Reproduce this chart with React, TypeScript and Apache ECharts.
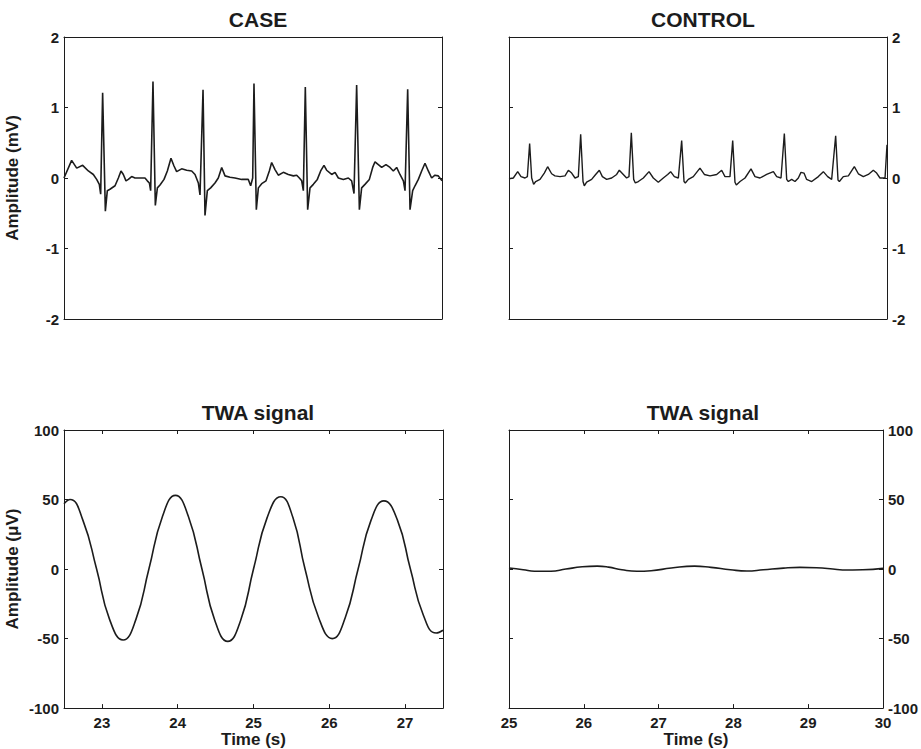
import React, { useEffect, useRef } from "react";
import * as echarts from "echarts";

// ECG traces [time (s), amplitude (mV)]
const caseEcg: [number, number][] = [
  [22.5, 0.0], [22.601, 0.25], [22.668, 0.14], [22.747, 0.18], [22.822, 0.1], [22.888, 0.05],
  [22.932, -0.02], [22.967, -0.09], [22.985, -0.23], [23.011, 1.21], [23.047, -0.47], [23.073, -0.18],
  [23.108, -0.16], [23.175, -0.11], [23.219, 0.0], [23.254, 0.1], [23.285, 0.05], [23.32, -0.04],
  [23.351, -0.02], [23.395, 0.02], [23.439, 0.0], [23.527, 0.0], [23.571, 0.0], [23.602, -0.04],
  [23.629, -0.07], [23.646, -0.18], [23.677, 1.37], [23.708, -0.39], [23.735, -0.14], [23.77, -0.1],
  [23.823, -0.02], [23.867, 0.1], [23.915, 0.28], [23.955, 0.17], [23.99, 0.09], [24.056, 0.13],
  [24.123, 0.11], [24.189, 0.1], [24.233, 0.05], [24.277, -0.07], [24.299, -0.24], [24.339, 1.25],
  [24.365, -0.53], [24.396, -0.18], [24.44, -0.14], [24.497, -0.07], [24.541, 0.0], [24.586, 0.15],
  [24.63, 0.03], [24.696, 0.01], [24.762, 0.0], [24.85, -0.02], [24.938, -0.02], [24.969, -0.11],
  [24.996, 0.0], [25.013, 1.34], [25.044, -0.45], [25.071, -0.14], [25.115, -0.08], [25.172, -0.04],
  [25.216, 0.1], [25.247, 0.22], [25.291, 0.12], [25.335, 0.04], [25.401, 0.08], [25.467, 0.05],
  [25.534, 0.03], [25.578, 0.04], [25.613, 0.0], [25.644, -0.04], [25.666, -0.18], [25.692, 1.29],
  [25.723, -0.45], [25.754, -0.14], [25.798, -0.09], [25.851, -0.02], [25.895, 0.1], [25.939, 0.18],
  [25.974, 0.11], [26.041, 0.05], [26.085, 0.08], [26.129, 0.0], [26.195, -0.02], [26.261, 0.0],
  [26.305, -0.04], [26.336, -0.22], [26.371, 1.32], [26.407, -0.45], [26.437, -0.14], [26.481, -0.09],
  [26.539, -0.02], [26.583, 0.15], [26.614, 0.23], [26.658, 0.19], [26.702, 0.15], [26.759, 0.19],
  [26.812, 0.15], [26.856, 0.1], [26.9, 0.15], [26.944, 0.05], [26.989, -0.04], [27.011, -0.18],
  [27.046, 1.26], [27.077, -0.45], [27.112, -0.18], [27.143, -0.11], [27.187, -0.02], [27.231, 0.1],
  [27.275, 0.21], [27.319, 0.1], [27.363, 0.0], [27.407, 0.04], [27.451, 0.03], [27.5, -0.04],
];

const controlEcg: [number, number][] = [
  [25.0, -0.01], [25.057, 0.0], [25.115, 0.09], [25.159, 0.02], [25.212, 0.0], [25.243, 0.02],
  [25.273, 0.49], [25.3, 0.0], [25.326, -0.09], [25.353, -0.05], [25.41, -0.02], [25.467, 0.07],
  [25.511, 0.16], [25.564, 0.06], [25.608, 0.03], [25.675, 0.02], [25.741, 0.03], [25.785, 0.11],
  [25.829, 0.07], [25.873, 0.0], [25.917, 0.02], [25.948, 0.62], [25.979, -0.05], [25.996, -0.11],
  [26.027, -0.06], [26.093, -0.02], [26.146, 0.05], [26.195, 0.11], [26.235, 0.02], [26.292, -0.02],
  [26.358, 0.0], [26.424, 0.05], [26.459, 0.11], [26.512, 0.05], [26.556, 0.0], [26.587, 0.02],
  [26.618, 0.64], [26.649, -0.02], [26.671, -0.07], [26.711, -0.05], [26.777, 0.0], [26.852, 0.09],
  [26.909, 0.0], [26.975, -0.06], [27.041, 0.0], [27.099, 0.05], [27.138, 0.09], [27.187, 0.02],
  [27.24, 0.0], [27.284, 0.53], [27.315, -0.05], [27.332, -0.07], [27.372, -0.02], [27.438, 0.02],
  [27.526, 0.14], [27.584, 0.05], [27.659, 0.03], [27.747, 0.05], [27.813, 0.11], [27.857, 0.02],
  [27.923, 0.02], [27.959, 0.53], [27.989, -0.06], [28.007, -0.1], [28.056, -0.05], [28.122, 0.0],
  [28.201, 0.13], [28.254, 0.02], [28.32, 0.0], [28.408, 0.05], [28.497, 0.09], [28.541, 0.02],
  [28.598, 0.0], [28.642, 0.63], [28.673, -0.02], [28.695, -0.05], [28.739, -0.02], [28.783, -0.05],
  [28.827, 0.0], [28.862, 0.08], [28.902, 0.07], [28.937, -0.02], [29.004, -0.05], [29.092, 0.02],
  [29.158, 0.09], [29.215, 0.02], [29.268, -0.02], [29.321, 0.6], [29.352, -0.03], [29.37, -0.05],
  [29.422, 0.02], [29.489, 0.03], [29.568, 0.16], [29.621, 0.06], [29.687, 0.02], [29.753, 0.05],
  [29.819, 0.11], [29.863, 0.07], [29.907, 0.0], [29.974, 0.0], [30.0, 0.47],
];

// TWA signals [time (s), amplitude (µV)]
const twaCase: [number, number][] = [
  [22.5, 47], [22.58, 50], [22.75, 35], [22.93, 0], [23.1, -36], [23.28, -51], [23.45, -36],
  [23.62, 0], [23.8, 38], [23.97, 53], [24.14, 38], [24.32, 0], [24.49, -37], [24.66, -52],
  [24.83, -37], [25.0, 0], [25.18, 37], [25.36, 52], [25.52, 37], [25.68, 0], [25.86, -35],
  [26.04, -50], [26.21, -35], [26.38, 0], [26.55, 35], [26.72, 49], [26.9, 35], [27.07, 0],
  [27.24, -33], [27.41, -46], [27.5, -44],
];

const twaControl: [number, number][] = [
  [25.0, 0.7], [25.19, -0.5], [25.34, -1.6], [25.56, -1.6], [25.76, 0], [25.98, 1.6], [26.18, 2.1],
  [26.33, 1.4], [26.51, -0.5], [26.71, -1.6], [26.9, -1.2], [27.17, 0.7], [27.48, 2.1], [27.7, 1.2],
  [27.96, -0.5], [28.18, -1.4], [28.4, -0.5], [28.67, 0.7], [28.89, 1.2], [29.11, 0.9], [29.33, 0],
  [29.46, -0.7], [29.73, -0.5], [30.0, 0.5],
];

const titles = ["CASE", "CONTROL", "TWA signal", "TWA signal"];
const caseRange = [22.5, 27.5];
const controlRange = [25, 30];
const ecgRange = [-2, 2, 1];
const twaRange = [-100, 100, 50];

const FONT = "'Liberation Sans', Arial, Helvetica, sans-serif";
const INK = "#1c1c1c";

export default function App() {
  const ref = useRef<HTMLDivElement>(null);

  useEffect(() => {
    if (!ref.current) return;
    const chart = echarts.init(ref.current, undefined, { renderer: "svg" });

    const axisLine = { show: true, onZero: false, lineStyle: { color: INK, width: 1 } };
    const ticksIn = { show: true, inside: true, length: 4, lineStyle: { color: INK, width: 1 } };
    const label = { color: INK, fontSize: 15, fontWeight: "bold", fontFamily: FONT };
    const nameStyle = { color: INK, fontSize: 17, fontWeight: "bold", fontFamily: FONT };

    const xAx = (grid: number, range: number[], pos: string, ticks: boolean, labels: boolean, name?: string) => ({
      type: "value",
      gridIndex: grid,
      position: pos,
      min: range[0],
      max: range[1],
      axisLine,
      axisTick: ticks ? ticksIn : { show: false },
      axisLabel: labels
        ? { ...label, margin: 7, formatter: (v: number) => (Number.isInteger(v) ? String(v) : "") }
        : { show: false },
      splitLine: { show: false },
      name: name ?? "",
      nameLocation: "middle",
      nameGap: 22,
      nameTextStyle: nameStyle,
    });

    const yAx = (grid: number, range: number[], pos: string, labels: boolean, name?: string) => ({
      type: "value",
      gridIndex: grid,
      position: pos,
      min: range[0],
      max: range[1],
      interval: range[2],
      axisLine,
      axisTick: ticksIn,
      axisLabel: labels ? { ...label, margin: 5 } : { show: false },
      splitLine: { show: false },
      name: name ?? "",
      nameLocation: "middle",
      nameGap: 43,
      nameTextStyle: nameStyle,
    });

    const line = (idx: number, data: [number, number][], smooth: boolean, width: number) => ({
      type: "line",
      xAxisIndex: idx,
      yAxisIndex: idx,
      data,
      showSymbol: false,
      smooth,
      lineStyle: { color: INK, width },
      silent: true,
      clip: true,
    });

    const titleBase = { textAlign: "center", textStyle: { color: INK, fontSize: 21, fontWeight: "bold", fontFamily: FONT } };

    chart.setOption({
      animation: false,
      backgroundColor: "#ffffff",
      title: [
        { ...titleBase, text: titles[0], left: 253, top: 4 },
        { ...titleBase, text: titles[1], left: 698, top: 4 },
        { ...titleBase, text: titles[2], left: 253, top: 397 },
        { ...titleBase, text: titles[3], left: 698, top: 397 },
      ],
      grid: [
        { left: 64, top: 37, width: 378, height: 282 },
        { left: 509, top: 37, width: 378, height: 282 },
        { left: 64, top: 430, width: 379, height: 281 },
        { left: 509, top: 430, width: 378, height: 281 },
      ],
      xAxis: [
        xAx(0, caseRange, "bottom", false, false),
        xAx(0, caseRange, "top", false, false),
        xAx(1, controlRange, "bottom", false, false),
        xAx(1, controlRange, "top", false, false),
        xAx(2, caseRange, "bottom", true, true, "Time (s)"),
        xAx(2, caseRange, "top", true, false),
        xAx(3, controlRange, "bottom", true, true, "Time (s)"),
        xAx(3, controlRange, "top", true, false),
      ],
      yAxis: [
        yAx(0, ecgRange, "left", true, "Amplitude (mV)"),
        yAx(0, ecgRange, "right", false),
        yAx(1, ecgRange, "right", true),
        yAx(1, ecgRange, "left", false),
        yAx(2, twaRange, "left", true, "Amplitude (\u03bcV)"),
        yAx(2, twaRange, "right", false),
        yAx(3, twaRange, "right", true),
        yAx(3, twaRange, "left", false),
      ],
      series: [
        line(0, caseEcg, false, 1.6),
        line(2, controlEcg, false, 1.4),
        line(4, twaCase, true, 1.6),
        line(6, twaControl, true, 1.6),
      ],
    });

    return () => chart.dispose();
  }, []);

  return (
    <div
      ref={ref}
      style={{ position: "absolute", left: 0, top: 0, width: 921, height: 749, background: "#fff" }}
    />
  );
}
